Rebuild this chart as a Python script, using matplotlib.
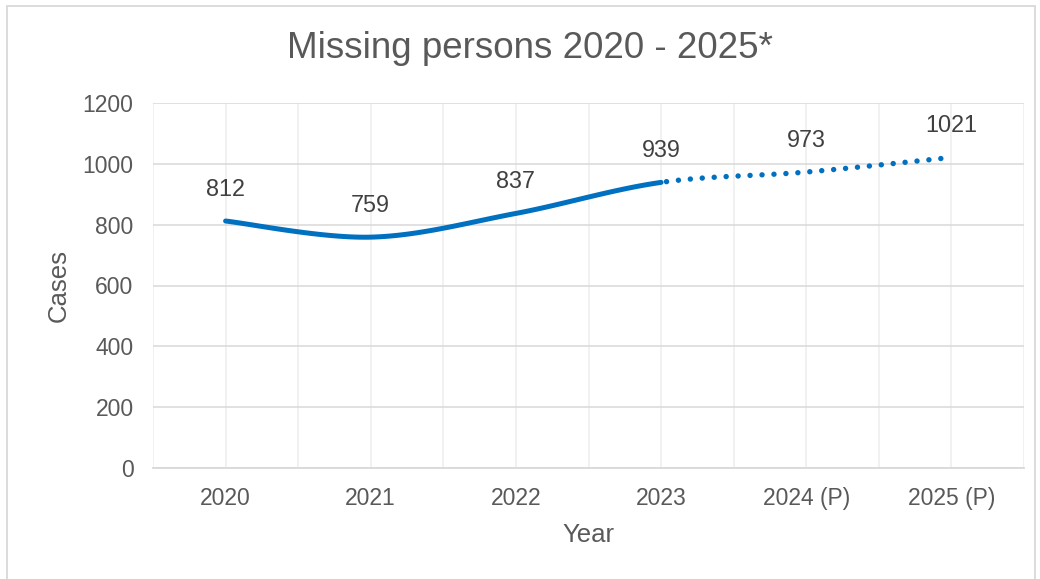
import matplotlib.pyplot as plt
import numpy as np
from matplotlib.patches import Rectangle

years = ['2020', '2021', '2022', '2023', '2024 (P)', '2025 (P)']
cases = [812, 759, 837, 939, 973, 1021]
n_actual = 4  # first four years are recorded, the rest projected

plt.rcParams['font.family'] = ['Liberation Sans', 'DejaVu Sans']


def smooth(x, y, steps=40):
    # catmull-rom curve through the points, similar to excel's smoothed line
    px = np.concatenate([[x[0]], x, [x[-1]]])
    py = np.concatenate([[y[0]], y, [y[-1]]])
    xs, ys = [], []
    for i in range(1, len(px) - 2):
        t = np.linspace(0, 1, steps)
        p0x, p1x, p2x, p3x = px[i - 1], px[i], px[i + 1], px[i + 2]
        p0y, p1y, p2y, p3y = py[i - 1], py[i], py[i + 1], py[i + 2]
        c1x, c1y = p1x + (p2x - p0x) / 6, p1y + (p2y - p0y) / 6
        c2x, c2y = p2x - (p3x - p1x) / 6, p2y - (p3y - p1y) / 6
        bx = (1-t)**3*p1x + 3*(1-t)**2*t*c1x + 3*(1-t)*t**2*c2x + t**3*p2x
        by = (1-t)**3*p1y + 3*(1-t)**2*t*c1y + 3*(1-t)*t**2*c2y + t**3*p2y
        xs.append(bx)
        ys.append(by)
    return xs, ys


x = np.arange(len(years), dtype=float)
y = np.array(cases, dtype=float)
segx, segy = smooth(x, y)

fig = plt.figure(figsize=(10.4, 5.79), dpi=100)
ax = fig.add_axes([153 / 1040, 111 / 579, 871 / 1040, 365 / 579])

blue = '#0070C0'
solid_x = np.concatenate(segx[:n_actual - 1])
solid_y = np.concatenate(segy[:n_actual - 1])
dot_x = np.concatenate(segx[n_actual - 1:])
dot_y = np.concatenate(segy[n_actual - 1:])
ax.plot(solid_x, solid_y, color=blue, lw=3.6, solid_capstyle='round', zorder=3)
ax.plot(dot_x, dot_y, color=blue, lw=3.9, linestyle=(1.2, (0.01, 2.2)),
        dash_capstyle='round', zorder=3)

for xi, yi in zip(x, cases):
    ax.annotate(str(yi), (xi, yi), xytext=(0, 23), textcoords='offset points',
                ha='center', va='center', fontsize=16.8, color='#404040')

ax.set_xlim(-0.5, 5.5)
ax.set_ylim(0, 1200)
ax.set_yticks(np.arange(0, 1201, 200))
ax.set_xticks(x)
ax.set_xticklabels(years)
ax.set_xticks(np.arange(-0.5, 5.6, 0.5), minor=True)

ax.grid(axis='y', color='#D9D9D9', lw=1.1)
ax.grid(axis='x', which='both', color='#EDEDED', lw=1.1)
ax.set_axisbelow(True)
for side in ['top', 'right', 'left']:
    ax.spines[side].set_visible(False)
ax.spines['bottom'].set_color('#D9D9D9')
ax.spines['bottom'].set_linewidth(1.3)

ax.tick_params(axis='both', which='both', length=0, labelsize=16.5, labelcolor='#595959')
ax.tick_params(axis='y', pad=14)
ax.tick_params(axis='x', pad=14)

ax.set_xlabel('Year', fontsize=18.5, color='#595959')
ax.set_ylabel('Cases', fontsize=18.5, color='#595959')
ax.xaxis.set_label_coords(0.5, -0.150)
ax.yaxis.set_label_coords(-0.094, 0.5)

fig.text(530 / 1040, 1 - 48 / 579, 'Missing persons 2020 - 2025*', ha='center', va='center',
         fontsize=26.5, color='#595959')

fig.patches.append(Rectangle((7 / 1040, -0.01), 1028 / 1040, 1 - 6 / 579 + 0.01,
                             transform=fig.transFigure, fill=False,
                             edgecolor='#D9D9D9', lw=1.3))

fig.savefig('out.png', dpi=100, facecolor='white')
